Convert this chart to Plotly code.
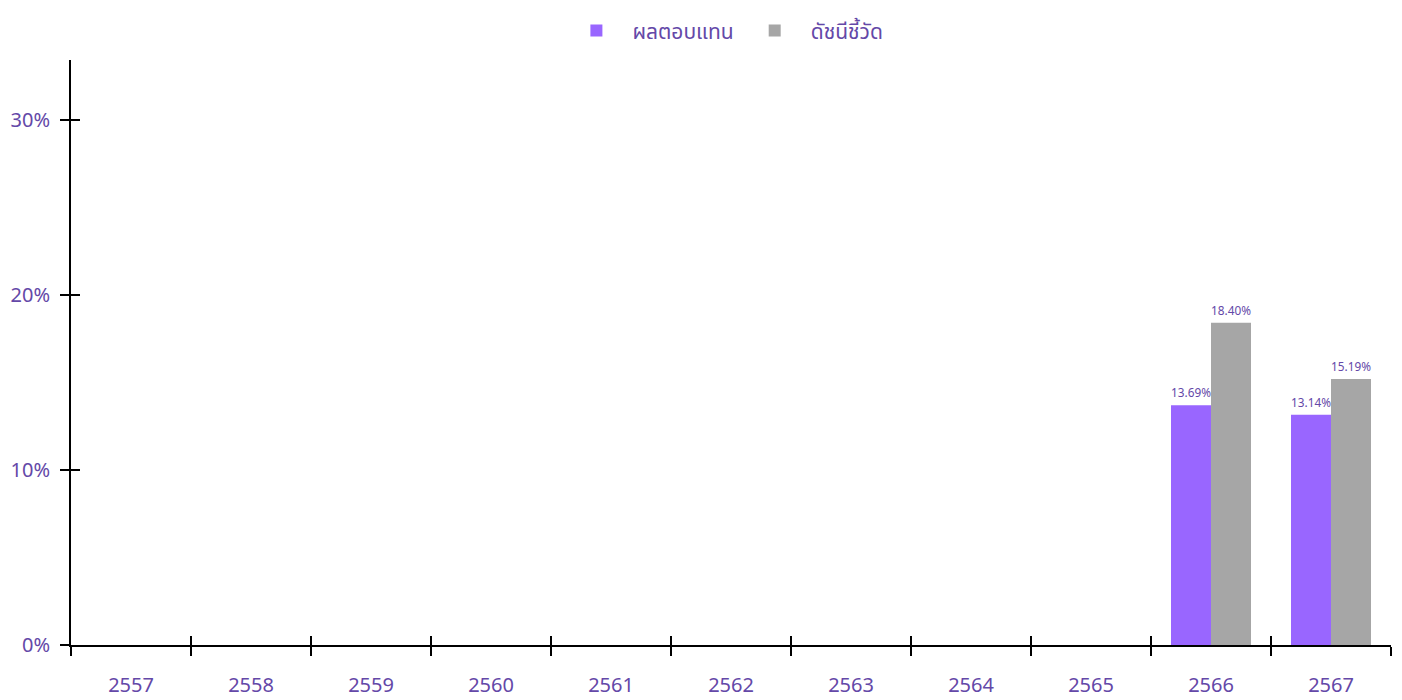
import plotly.graph_objects as go

years = ["2557", "2558", "2559", "2560", "2561", "2562", "2563", "2564", "2565", "2566", "2567"]
responses = [None, None, None, None, None, None, None, None, None, 0.1369, 0.1314]
indicators = [None, None, None, None, None, None, None, None, None, 0.1840, 0.1519]

text_color = "#6448a8"
font_family = "Tahoma, 'Noto Sans Thai', 'Noto Sans', sans-serif"

fig = go.Figure()
fig.add_trace(go.Bar(
    x=years, y=responses, name="ผลตอบแทน",
    marker=dict(color="#9966ff", line=dict(width=0)),
    texttemplate="%{y:.2%}", textposition="outside",
    textfont=dict(size=12, color=text_color), cliponaxis=False,
))
fig.add_trace(go.Bar(
    x=years, y=indicators, name="ดัชนีชี้วัด",
    marker=dict(color="#a6a6a6", line=dict(width=0)),
    texttemplate="%{y:.2%}", textposition="outside",
    textfont=dict(size=12, color=text_color), cliponaxis=False,
))

n = len(years)
# the page body adds an 8px offset, so the figure is sized to fit the window
fig.update_layout(
    width=1394, height=692,
    margin=dict(l=63, r=11, t=52, b=55, autoexpand=False),
    plot_bgcolor="white", paper_bgcolor="white",
    font=dict(family=font_family, color=text_color, size=20),
    barmode="group", bargap=1 / 3, bargroupgap=0,
    legend=dict(orientation="h", x=0.495, xanchor="center", y=1.05, yanchor="middle",
                font=dict(size=21, color=text_color), itemwidth=62, traceorder="normal"),
    xaxis=dict(
        type="category", range=[-0.5, n - 0.5], showgrid=False,
        showline=True, linecolor="black", linewidth=2,
        ticks="outside", tickson="boundaries", ticklen=9, tickwidth=2, tickcolor="black",
        tickfont=dict(size=20, color=text_color), ticklabelstandoff=21,
    ),
    xaxis2=dict(
        overlaying="x", anchor="y", side="bottom", range=[-0.5, n - 0.5],
        tickvals=[i - 0.5 for i in range(n + 1)], showticklabels=False,
        ticks="inside", ticklen=9, tickwidth=2, tickcolor="black",
        showgrid=False, zeroline=False, showline=False,
    ),
    yaxis=dict(
        range=[0, 0.334], tickvals=[0, 0.1, 0.2, 0.3], tickformat=".0%",
        showgrid=False, zeroline=False,
        showline=True, linecolor="black", linewidth=2,
        ticks="outside", ticklen=9, tickwidth=2, tickcolor="black",
        tickfont=dict(size=20, color=text_color), ticklabelstandoff=6,
    ),
    yaxis2=dict(
        overlaying="y", anchor="x", side="left", range=[0, 0.334],
        tickvals=[0, 0.1, 0.2, 0.3], showticklabels=False,
        ticks="inside", ticklen=9, tickwidth=2, tickcolor="black",
        showgrid=False, zeroline=False, showline=False,
    ),
)
# invisible helper trace so the overlay axes are drawn
fig.add_trace(go.Scatter(x=[0], y=[0], xaxis="x2", yaxis="y2", mode="markers",
                         marker=dict(opacity=0), showlegend=False, hoverinfo="skip"))

fig.write_html("out.html")
